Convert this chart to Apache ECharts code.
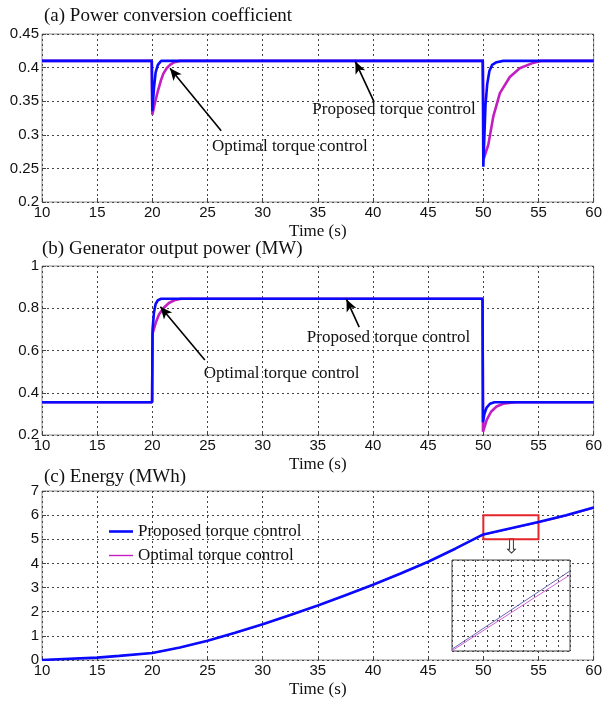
<!DOCTYPE html>
<html>
<head>
<meta charset="utf-8">
<script src="https://cdn.jsdelivr.net/npm/echarts@6/dist/echarts.min.js"></script>
<style>
  html, body { margin: 0; padding: 0; background: #fff; }
  #chart { width: 605px; height: 702px; }
</style>
</head>
<body>
<div id="chart"></div>
<script>
// time axis ticks (s)
const timeTicks = { min: 10, max: 60, interval: 5 };

// (a) power conversion coefficient
const cpProposed = [
  [10, 0.41], [19.95, 0.41], [20.0, 0.335], [20.15, 0.37], [20.3, 0.393],
  [20.5, 0.404], [20.8, 0.41], [49.95, 0.41], [50.0, 0.2525], [50.1, 0.30],
  [50.2, 0.345], [50.35, 0.375], [50.55, 0.395], [50.8, 0.404], [51.2, 0.408],
  [51.8, 0.41], [60, 0.41],
];
const cpOptimal = [
  [10, 0.41], [19.95, 0.41], [20.0, 0.33], [20.2, 0.345], [20.5, 0.365],
  [20.8, 0.382], [21.0, 0.391], [21.3, 0.399], [21.6, 0.404], [22.0, 0.408],
  [22.5, 0.41], [49.95, 0.41], [50.05, 0.265], [50.45, 0.285], [50.9, 0.327],
  [51.5, 0.362], [52.4, 0.386], [53.3, 0.399], [54.5, 0.407], [55.2, 0.41], [60, 0.41],
];

// (b) generator output power (MW)
const powerProposed = [
  [10, 0.355], [19.98, 0.355], [20.02, 0.70], [20.15, 0.78], [20.3, 0.82],
  [20.5, 0.838], [20.8, 0.845], [49.93, 0.845], [49.97, 0.26], [50.1, 0.30],
  [50.3, 0.33], [50.6, 0.348], [51.0, 0.355], [60, 0.355],
];
const powerOptimal = [
  [10, 0.355], [19.98, 0.355], [20.02, 0.68], [20.3, 0.73], [20.6, 0.77],
  [21.0, 0.80], [21.5, 0.825], [22.0, 0.838], [22.6, 0.845], [49.93, 0.845],
  [49.97, 0.215], [50.3, 0.27], [50.7, 0.31], [51.2, 0.335], [51.8, 0.348],
  [52.5, 0.353], [53.1, 0.355], [60, 0.355],
];

// (c) energy (MWh)
const energyProposed = [
  [10, 0], [12, 0.04], [15, 0.1], [17, 0.17], [20, 0.29], [22.5, 0.52],
  [25, 0.8], [27.5, 1.13], [30, 1.48], [32.5, 1.86], [35, 2.26], [37.5, 2.68],
  [40, 3.12], [42.5, 3.58], [45, 4.07], [47.5, 4.62], [50, 5.2], [52.5, 5.46],
  [55, 5.72], [57.5, 6.0], [60, 6.32],
];
const energyOptimal = [
  [10, 0], [12, 0.04], [15, 0.1], [17, 0.17], [20, 0.29], [22.5, 0.51],
  [25, 0.79], [27.5, 1.12], [30, 1.47], [32.5, 1.85], [35, 2.25], [37.5, 2.67],
  [40, 3.11], [42.5, 3.57], [45, 4.06], [47.5, 4.61], [50, 5.19], [52.5, 5.44],
  [55, 5.69], [57.5, 5.97], [60, 6.29],
];

// zoomed inset
const insetProposed = [[0, 0.12], [10, 5.28]];
const insetOptimal = [[0, 0.02], [10, 5.02]];

const serif = 'Liberation Serif';
const sans = 'Liberation Sans';
const blue = '#0a0aff';
const magenta = '#c21ec2';

const chart = echarts.init(document.getElementById('chart'));

function xAxisFor(gridIndex) {
  return {
    type: 'value', gridIndex,
    min: timeTicks.min, max: timeTicks.max, interval: timeTicks.interval,
    name: 'Time (s)', nameLocation: 'middle', nameGap: 21,
    nameTextStyle: { fontFamily: serif, fontSize: 17, color: '#111' },
    axisLine: { show: false },
    axisTick: { show: true, inside: true, length: 4, lineStyle: { color: '#444' } },
    axisLabel: { fontFamily: sans, fontSize: 15, color: '#111', margin: 3 },
    splitLine: { show: true, lineStyle: { color: '#444', width: 1, type: [2, 3] } },
  };
}
function yAxisFor(gridIndex, min, max, interval) {
  return {
    type: 'value', gridIndex, min, max, interval,
    axisLine: { show: false },
    axisTick: { show: true, inside: true, length: 4, lineStyle: { color: '#444' } },
    axisLabel: { fontFamily: sans, fontSize: 15, color: '#111', margin: 3 },
    splitLine: { show: true, lineStyle: { color: '#444', width: 1, type: [2, 3] } },
  };
}
function insetAxis(gridIndex, max) {
  return {
    type: 'value', gridIndex, min: 0, max, interval: 1, z: 5,
    axisLine: { show: false }, axisTick: { show: false }, axisLabel: { show: false },
    splitLine: { lineStyle: { color: '#444', type: [2, 3] } },
  };
}
function lineSeries(name, data, idx, color, width) {
  return {
    name, type: 'line', data, xAxisIndex: idx, yAxisIndex: idx,
    showSymbol: false, symbol: 'none',
    lineStyle: { color, width }, itemStyle: { color },
  };
}
function arrow(from, to) {
  return [{ coord: from, symbol: 'none' }, { coord: to, symbol: 'arrow' }];
}
function note(text, at) {
  return { name: text, coord: at };
}
const arrowStyle = {
  silent: true, symbolSize: [8, 12],
  lineStyle: { color: '#000', width: 1.6, type: 'solid' },
  label: { show: false },
};
const noteStyle = {
  silent: true, symbolSize: 0,
  label: { show: true, position: 'right', distance: 0, formatter: p => p.name,
    fontFamily: serif, fontSize: 17, color: '#111' },
};
function legendFor(name, top, thickness) {
  return {
    left: 104, top, itemWidth: 24, itemHeight: thickness, icon: 'rect',
    textStyle: { fontFamily: serif, fontSize: 17, color: '#111' },
    data: [name],
  };
}

const gridBox = { show: true, borderColor: '#8c8c8c', borderWidth: 1 };
const insetBox = { left: 452, top: 560, width: 118, height: 91 };

chart.setOption({
  animation: false,
  title: [
    { text: '(a) Power conversion coefficient', left: 44, top: 7 },
    { text: '(b) Generator output power (MW)', left: 42, top: 240 },
    { text: '(c) Energy (MWh)', left: 44, top: 468 },
  ].map(t => Object.assign(t, { padding: 0,
    textStyle: { fontFamily: serif, fontSize: 19, fontWeight: 'normal', color: '#111' } })),
  grid: [
    Object.assign({ left: 42, top: 34, width: 552, height: 168 }, gridBox),
    Object.assign({ left: 42, top: 266, width: 552, height: 169 }, gridBox),
    Object.assign({ left: 42, top: 491, width: 552, height: 169 }, gridBox),
    Object.assign({ show: true, z: 5, borderColor: '#444', borderWidth: 1 }, insetBox),
  ],
  legend: [
    legendFor('Proposed torque control', 518, 2.6),
    legendFor('Optimal torque control', 542, 1.4),
  ],
  xAxis: [xAxisFor(0), xAxisFor(1), xAxisFor(2), insetAxis(3, 10)],
  yAxis: [
    yAxisFor(0, 0.2, 0.45, 0.05),
    yAxisFor(1, 0.2, 1, 0.2),
    yAxisFor(2, 0, 7, 1),
    insetAxis(3, 6),
  ],
  series: [
    Object.assign(lineSeries('Optimal (a)', cpOptimal, 0, magenta, 2.6), {
      markLine: Object.assign({ data: [arrow([26.24, 0.306], [21.6, 0.399])] }, arrowStyle),
      markPoint: Object.assign({ data: [note('Optimal torque control', [25.4, 0.282])] }, noteStyle),
    }),
    Object.assign(lineSeries('Proposed (a)', cpProposed, 0, blue, 2.6), {
      markLine: Object.assign({ data: [arrow([40.1, 0.349], [38.4, 0.409])] }, arrowStyle),
      markPoint: Object.assign({ data: [note('Proposed torque control', [34.5, 0.337])] }, noteStyle),
    }),
    Object.assign(lineSeries('Optimal (b)', powerOptimal, 1, magenta, 2.6), {
      markLine: Object.assign({ data: [arrow([24.76, 0.555], [20.73, 0.807])] }, arrowStyle),
      markPoint: Object.assign({ data: [note('Optimal torque control', [24.66, 0.493])] }, noteStyle),
    }),
    Object.assign(lineSeries('Proposed (b)', powerProposed, 1, blue, 2.6), {
      markLine: Object.assign({ data: [arrow([38.75, 0.711], [37.6, 0.842])] }, arrowStyle),
      markPoint: Object.assign({ data: [note('Proposed torque control', [34.0, 0.66])] }, noteStyle),
    }),
    lineSeries('Optimal torque control', energyOptimal, 2, magenta, 1.4),
    Object.assign(lineSeries('Proposed torque control', energyProposed, 2, blue, 2.6), {
      markArea: {
        silent: true,
        itemStyle: { color: 'rgba(0,0,0,0)', borderColor: '#e3262b', borderWidth: 2 },
        data: [[{ coord: [50, 5] }, { coord: [55, 6] }]],
      },
    }),
    Object.assign(lineSeries('Proposed inset', insetProposed, 3, '#6464b4', 1), { z: 7 }),
    Object.assign(lineSeries('Optimal inset', insetOptimal, 3, '#d060d0', 1), { z: 7 }),
  ],
  graphic: [
    // white backing so the main grid lines do not show through the inset
    { type: 'rect', z: 3, silent: true,
      shape: { x: insetBox.left, y: insetBox.top, width: insetBox.width, height: insetBox.height },
      style: { fill: '#fff' } },
    { type: 'text', left: 503, top: 538, silent: true,
      style: { text: '\u21e9', font: '20px "DejaVu Sans"', fill: '#333' } },
  ],
});
</script>
</body>
</html>
